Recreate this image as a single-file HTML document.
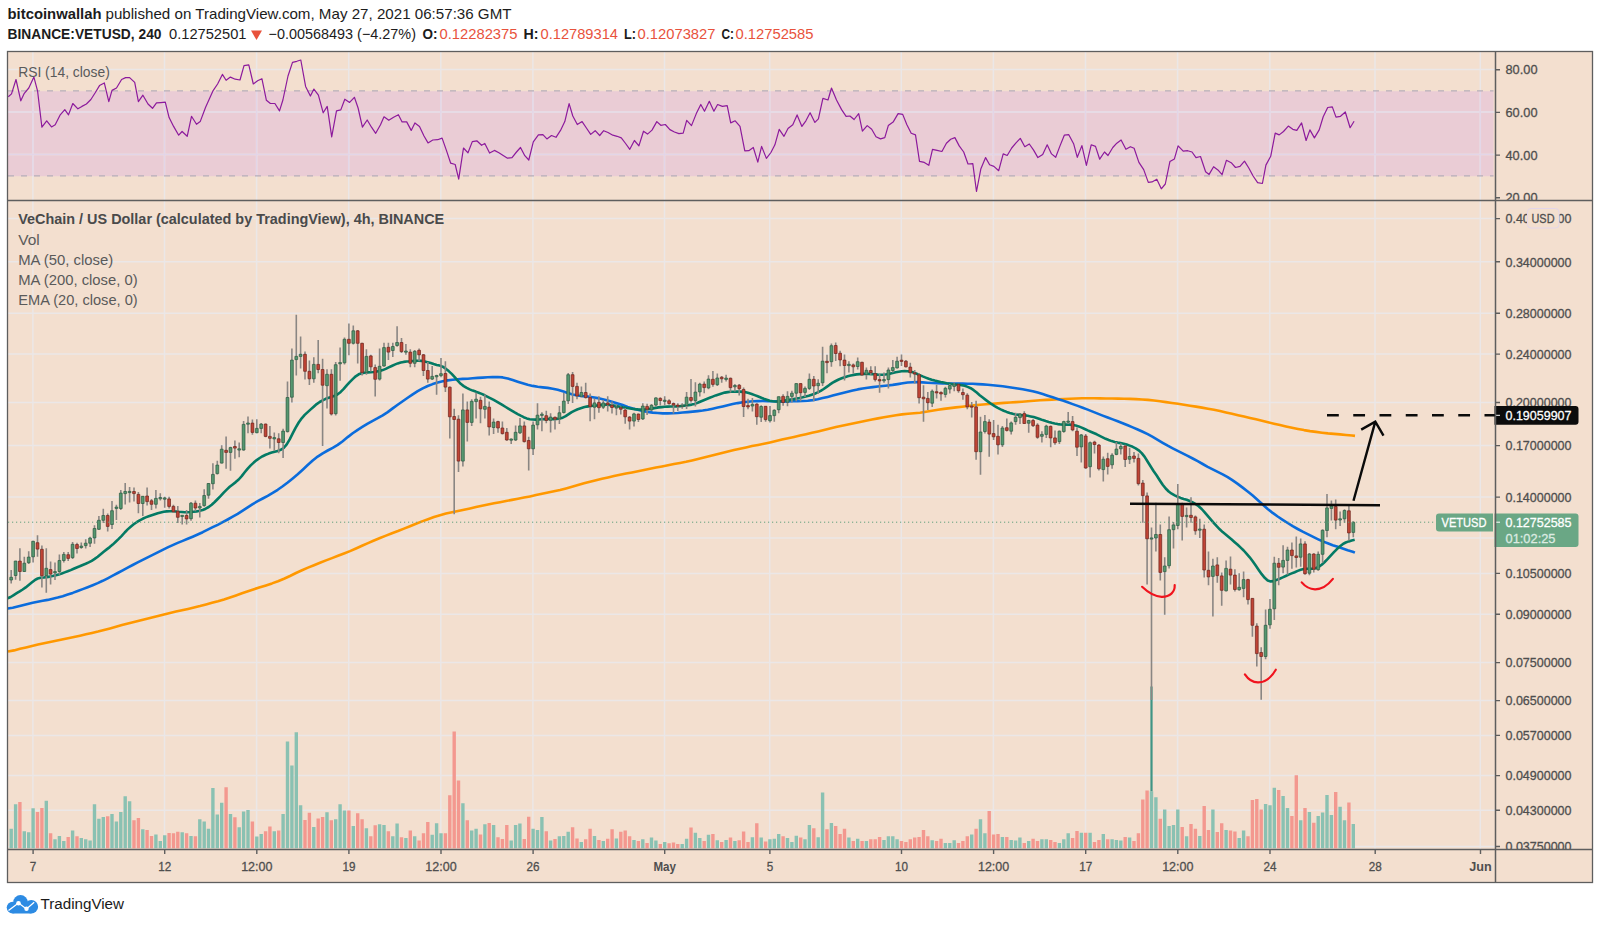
<!DOCTYPE html>
<html lang="en"><head><meta charset="utf-8"><title>VETUSD chart</title>
<style>html,body{margin:0;padding:0;background:#fff}body{width:1600px;height:926px;overflow:hidden}svg{display:block}</style>
</head><body>
<svg width="1600" height="926" viewBox="0 0 1600 926" font-family="'Liberation Sans', sans-serif">
<rect width="1600" height="926" fill="#ffffff"/>
<rect x="7" y="51" width="1585" height="831" fill="#f3dfcf"/>
<rect x="8" y="91.2" width="1485.5" height="85" fill="#eaccd5"/>
<path d="M32.9 52V849M164.5 52V849M256.6 52V849M348.7 52V849M440.8 52V849M532.9 52V849M664.5 52V849M769.7 52V849M901.3 52V849M993.4 52V849M1085.5 52V849M1177.6 52V849M1269.8 52V849M1375.0 52V849M1480.3 52V849M8 69.6H1495M8 112.0H1495M8 154.4H1495M8 538.0H1495M8 218.6H1495M8 261.7H1495M8 313.2H1495M8 354.1H1495M8 402.5H1495M8 445.6H1495M8 497.1H1495M8 573.4H1495M8 614.3H1495M8 662.6H1495M8 700.6H1495M8 735.4H1495M8 775.6H1495M8 810.2H1495M8 846.5H1495" stroke="#ebe7e7" stroke-width="1.5" fill="none"/>
<path d="M32.9 91V176M164.5 91V176M256.6 91V176M348.7 91V176M440.8 91V176M532.9 91V176M664.5 91V176M769.7 91V176M901.3 91V176M993.4 91V176M1085.5 91V176M1177.6 91V176M1269.8 91V176M1375.0 91V176M1480.3 91V176M8 112.0H1493.5M8 154.4H1493.5" stroke="#e3d5e8" stroke-width="1.2" fill="none"/>
<path d="M8 90.9H1493.5M8 175.8H1493.5" stroke="#b7aeb9" stroke-width="1.2" stroke-dasharray="6 7" fill="none"/>
<path d="M9.5 828.8h3.4V848.3h-3.4zM13.9 804.3h3.4V848.3h-3.4zM22.6 831.2h3.4V848.3h-3.4zM27.0 832.3h3.4V848.3h-3.4zM31.4 808.3h3.4V848.3h-3.4zM44.6 800.8h3.4V848.3h-3.4zM53.3 839.2h3.4V848.3h-3.4zM57.7 836.0h3.4V848.3h-3.4zM62.1 841.1h3.4V848.3h-3.4zM70.9 830.4h3.4V848.3h-3.4zM79.6 838.1h3.4V848.3h-3.4zM84.0 839.2h3.4V848.3h-3.4zM88.4 840.5h3.4V848.3h-3.4zM92.8 804.3h3.4V848.3h-3.4zM97.2 818.7h3.4V848.3h-3.4zM101.6 817.1h3.4V848.3h-3.4zM110.3 813.9h3.4V848.3h-3.4zM114.7 821.6h3.4V848.3h-3.4zM119.1 812.0h3.4V848.3h-3.4zM123.5 796.3h3.4V848.3h-3.4zM127.9 801.3h3.4V848.3h-3.4zM141.1 829.3h3.4V848.3h-3.4zM154.2 834.4h3.4V848.3h-3.4zM158.6 841.1h3.4V848.3h-3.4zM163.0 835.2h3.4V848.3h-3.4zM180.5 832.3h3.4V848.3h-3.4zM189.3 836.0h3.4V848.3h-3.4zM198.1 819.2h3.4V848.3h-3.4zM202.5 821.6h3.4V848.3h-3.4zM206.8 828.8h3.4V848.3h-3.4zM211.2 788.0h3.4V848.3h-3.4zM215.6 814.4h3.4V848.3h-3.4zM220.0 802.7h3.4V848.3h-3.4zM228.8 814.1h3.4V848.3h-3.4zM237.5 827.2h3.4V848.3h-3.4zM241.9 811.5h3.4V848.3h-3.4zM246.3 809.9h3.4V848.3h-3.4zM255.1 836.5h3.4V848.3h-3.4zM259.5 834.1h3.4V848.3h-3.4zM272.6 831.2h3.4V848.3h-3.4zM281.4 814.1h3.4V848.3h-3.4zM285.8 741.6h3.4V848.3h-3.4zM290.2 765.6h3.4V848.3h-3.4zM294.6 732.3h3.4V848.3h-3.4zM298.9 805.3h3.4V848.3h-3.4zM312.1 826.9h3.4V848.3h-3.4zM325.3 812.3h3.4V848.3h-3.4zM334.0 819.2h3.4V848.3h-3.4zM338.4 804.3h3.4V848.3h-3.4zM342.8 810.4h3.4V848.3h-3.4zM351.6 826.1h3.4V848.3h-3.4zM364.7 828.3h3.4V848.3h-3.4zM377.9 824.3h3.4V848.3h-3.4zM382.3 825.1h3.4V848.3h-3.4zM391.1 836.3h3.4V848.3h-3.4zM395.4 823.5h3.4V848.3h-3.4zM404.2 838.1h3.4V848.3h-3.4zM413.0 836.3h3.4V848.3h-3.4zM430.5 834.7h3.4V848.3h-3.4zM434.9 823.2h3.4V848.3h-3.4zM439.3 833.3h3.4V848.3h-3.4zM461.2 803.2h3.4V848.3h-3.4zM470.0 830.4h3.4V848.3h-3.4zM474.4 828.8h3.4V848.3h-3.4zM483.2 824.3h3.4V848.3h-3.4zM491.9 825.1h3.4V848.3h-3.4zM509.5 840.5h3.4V848.3h-3.4zM513.9 825.1h3.4V848.3h-3.4zM518.2 823.5h3.4V848.3h-3.4zM531.4 828.8h3.4V848.3h-3.4zM535.8 830.1h3.4V848.3h-3.4zM540.2 817.1h3.4V848.3h-3.4zM548.9 840.5h3.4V848.3h-3.4zM557.7 836.3h3.4V848.3h-3.4zM562.1 836.0h3.4V848.3h-3.4zM566.5 831.7h3.4V848.3h-3.4zM579.6 841.9h3.4V848.3h-3.4zM592.8 836.0h3.4V848.3h-3.4zM601.6 841.1h3.4V848.3h-3.4zM614.7 838.4h3.4V848.3h-3.4zM632.3 840.0h3.4V848.3h-3.4zM641.1 839.2h3.4V848.3h-3.4zM649.8 837.6h3.4V848.3h-3.4zM654.2 840.5h3.4V848.3h-3.4zM663.0 842.1h3.4V848.3h-3.4zM680.5 844.0h3.4V848.3h-3.4zM684.9 838.7h3.4V848.3h-3.4zM693.7 832.8h3.4V848.3h-3.4zM698.1 838.1h3.4V848.3h-3.4zM706.8 834.7h3.4V848.3h-3.4zM715.6 840.3h3.4V848.3h-3.4zM724.4 840.0h3.4V848.3h-3.4zM733.2 841.1h3.4V848.3h-3.4zM750.7 837.3h3.4V848.3h-3.4zM759.5 837.6h3.4V848.3h-3.4zM768.2 839.2h3.4V848.3h-3.4zM772.6 838.7h3.4V848.3h-3.4zM777.0 834.1h3.4V848.3h-3.4zM785.8 838.1h3.4V848.3h-3.4zM790.2 841.9h3.4V848.3h-3.4zM794.6 835.7h3.4V848.3h-3.4zM803.3 839.2h3.4V848.3h-3.4zM807.7 825.1h3.4V848.3h-3.4zM816.5 837.3h3.4V848.3h-3.4zM820.9 792.5h3.4V848.3h-3.4zM829.7 822.9h3.4V848.3h-3.4zM847.2 837.6h3.4V848.3h-3.4zM856.0 838.7h3.4V848.3h-3.4zM864.7 841.1h3.4V848.3h-3.4zM882.3 840.0h3.4V848.3h-3.4zM886.7 836.3h3.4V848.3h-3.4zM891.1 836.3h3.4V848.3h-3.4zM895.4 839.2h3.4V848.3h-3.4zM930.5 840.3h3.4V848.3h-3.4zM943.7 842.9h3.4V848.3h-3.4zM948.1 842.9h3.4V848.3h-3.4zM952.5 840.3h3.4V848.3h-3.4zM970.0 834.4h3.4V848.3h-3.4zM978.8 819.2h3.4V848.3h-3.4zM983.2 833.3h3.4V848.3h-3.4zM1000.7 837.1h3.4V848.3h-3.4zM1009.5 840.0h3.4V848.3h-3.4zM1013.9 840.5h3.4V848.3h-3.4zM1018.2 837.6h3.4V848.3h-3.4zM1027.0 841.1h3.4V848.3h-3.4zM1040.2 839.2h3.4V848.3h-3.4zM1044.6 839.2h3.4V848.3h-3.4zM1057.7 842.9h3.4V848.3h-3.4zM1062.1 839.2h3.4V848.3h-3.4zM1066.5 833.3h3.4V848.3h-3.4zM1079.7 832.8h3.4V848.3h-3.4zM1088.4 832.8h3.4V848.3h-3.4zM1101.6 834.1h3.4V848.3h-3.4zM1110.4 839.2h3.4V848.3h-3.4zM1114.7 840.0h3.4V848.3h-3.4zM1119.1 840.5h3.4V848.3h-3.4zM1127.9 837.6h3.4V848.3h-3.4zM1149.8 791.2h3.4V848.3h-3.4zM1154.2 797.3h3.4V848.3h-3.4zM1163.0 809.6h3.4V848.3h-3.4zM1167.4 826.1h3.4V848.3h-3.4zM1171.8 825.1h3.4V848.3h-3.4zM1176.1 809.6h3.4V848.3h-3.4zM1184.9 836.3h3.4V848.3h-3.4zM1198.1 836.0h3.4V848.3h-3.4zM1211.2 809.6h3.4V848.3h-3.4zM1224.4 829.9h3.4V848.3h-3.4zM1237.5 838.1h3.4V848.3h-3.4zM1241.9 830.4h3.4V848.3h-3.4zM1263.9 804.0h3.4V848.3h-3.4zM1268.3 805.3h3.4V848.3h-3.4zM1272.6 787.7h3.4V848.3h-3.4zM1281.4 796.0h3.4V848.3h-3.4zM1285.8 808.0h3.4V848.3h-3.4zM1299.0 820.3h3.4V848.3h-3.4zM1307.7 812.0h3.4V848.3h-3.4zM1316.5 816.0h3.4V848.3h-3.4zM1320.9 812.5h3.4V848.3h-3.4zM1325.3 794.9h3.4V848.3h-3.4zM1329.7 814.9h3.4V848.3h-3.4zM1338.4 806.7h3.4V848.3h-3.4zM1342.8 820.3h3.4V848.3h-3.4zM1351.6 824.0h3.4V848.3h-3.4z" fill="#8ac1b2"/>
<path d="M18.2 802.1h3.4V848.3h-3.4zM35.8 812.0h3.4V848.3h-3.4zM40.2 808.0h3.4V848.3h-3.4zM48.9 833.3h3.4V848.3h-3.4zM66.5 837.1h3.4V848.3h-3.4zM75.3 836.3h3.4V848.3h-3.4zM106.0 816.3h3.4V848.3h-3.4zM132.3 820.3h3.4V848.3h-3.4zM136.7 818.1h3.4V848.3h-3.4zM145.4 830.1h3.4V848.3h-3.4zM149.8 836.0h3.4V848.3h-3.4zM167.4 833.1h3.4V848.3h-3.4zM171.8 833.3h3.4V848.3h-3.4zM176.1 831.7h3.4V848.3h-3.4zM184.9 833.3h3.4V848.3h-3.4zM193.7 836.3h3.4V848.3h-3.4zM224.4 787.2h3.4V848.3h-3.4zM233.2 817.3h3.4V848.3h-3.4zM250.7 821.6h3.4V848.3h-3.4zM263.9 831.2h3.4V848.3h-3.4zM268.2 826.4h3.4V848.3h-3.4zM277.0 830.4h3.4V848.3h-3.4zM303.3 820.0h3.4V848.3h-3.4zM307.7 812.8h3.4V848.3h-3.4zM316.5 818.4h3.4V848.3h-3.4zM320.9 817.1h3.4V848.3h-3.4zM329.6 820.3h3.4V848.3h-3.4zM347.2 810.4h3.4V848.3h-3.4zM356.0 813.3h3.4V848.3h-3.4zM360.4 819.2h3.4V848.3h-3.4zM369.1 836.3h3.4V848.3h-3.4zM373.5 825.3h3.4V848.3h-3.4zM386.7 831.2h3.4V848.3h-3.4zM399.8 837.3h3.4V848.3h-3.4zM408.6 830.4h3.4V848.3h-3.4zM417.4 840.5h3.4V848.3h-3.4zM421.8 833.3h3.4V848.3h-3.4zM426.1 822.1h3.4V848.3h-3.4zM443.7 833.3h3.4V848.3h-3.4zM448.1 795.2h3.4V848.3h-3.4zM452.5 731.5h3.4V848.3h-3.4zM456.8 780.5h3.4V848.3h-3.4zM465.6 820.3h3.4V848.3h-3.4zM478.8 834.4h3.4V848.3h-3.4zM487.5 822.9h3.4V848.3h-3.4zM496.3 837.3h3.4V848.3h-3.4zM500.7 838.9h3.4V848.3h-3.4zM505.1 825.1h3.4V848.3h-3.4zM522.6 838.9h3.4V848.3h-3.4zM527.0 816.8h3.4V848.3h-3.4zM544.6 831.2h3.4V848.3h-3.4zM553.3 838.9h3.4V848.3h-3.4zM570.9 827.2h3.4V848.3h-3.4zM575.3 838.4h3.4V848.3h-3.4zM584.0 839.2h3.4V848.3h-3.4zM588.4 828.8h3.4V848.3h-3.4zM597.2 840.0h3.4V848.3h-3.4zM606.0 838.7h3.4V848.3h-3.4zM610.4 829.3h3.4V848.3h-3.4zM619.1 831.7h3.4V848.3h-3.4zM623.5 830.4h3.4V848.3h-3.4zM627.9 836.3h3.4V848.3h-3.4zM636.7 841.1h3.4V848.3h-3.4zM645.4 842.9h3.4V848.3h-3.4zM658.6 844.0h3.4V848.3h-3.4zM667.4 843.2h3.4V848.3h-3.4zM671.8 842.4h3.4V848.3h-3.4zM676.1 844.0h3.4V848.3h-3.4zM689.3 827.5h3.4V848.3h-3.4zM702.5 841.1h3.4V848.3h-3.4zM711.2 834.1h3.4V848.3h-3.4zM720.0 842.1h3.4V848.3h-3.4zM728.8 837.6h3.4V848.3h-3.4zM737.5 840.3h3.4V848.3h-3.4zM741.9 831.5h3.4V848.3h-3.4zM746.3 842.1h3.4V848.3h-3.4zM755.1 823.2h3.4V848.3h-3.4zM763.9 841.6h3.4V848.3h-3.4zM781.4 836.3h3.4V848.3h-3.4zM799.0 837.6h3.4V848.3h-3.4zM812.1 828.3h3.4V848.3h-3.4zM825.3 829.3h3.4V848.3h-3.4zM834.0 826.1h3.4V848.3h-3.4zM838.4 834.1h3.4V848.3h-3.4zM842.8 828.8h3.4V848.3h-3.4zM851.6 841.1h3.4V848.3h-3.4zM860.4 841.1h3.4V848.3h-3.4zM869.1 839.2h3.4V848.3h-3.4zM873.5 839.2h3.4V848.3h-3.4zM877.9 837.1h3.4V848.3h-3.4zM899.8 841.1h3.4V848.3h-3.4zM904.2 842.1h3.4V848.3h-3.4zM908.6 839.2h3.4V848.3h-3.4zM913.0 837.6h3.4V848.3h-3.4zM917.4 837.1h3.4V848.3h-3.4zM921.8 829.9h3.4V848.3h-3.4zM926.1 836.3h3.4V848.3h-3.4zM934.9 841.1h3.4V848.3h-3.4zM939.3 838.7h3.4V848.3h-3.4zM956.8 842.9h3.4V848.3h-3.4zM961.2 841.1h3.4V848.3h-3.4zM965.6 836.3h3.4V848.3h-3.4zM974.4 828.8h3.4V848.3h-3.4zM987.5 810.9h3.4V848.3h-3.4zM991.9 834.4h3.4V848.3h-3.4zM996.3 834.1h3.4V848.3h-3.4zM1005.1 837.1h3.4V848.3h-3.4zM1022.6 842.9h3.4V848.3h-3.4zM1031.4 838.7h3.4V848.3h-3.4zM1035.8 841.1h3.4V848.3h-3.4zM1049.0 840.0h3.4V848.3h-3.4zM1053.3 841.9h3.4V848.3h-3.4zM1070.9 838.1h3.4V848.3h-3.4zM1075.3 830.9h3.4V848.3h-3.4zM1084.0 832.8h3.4V848.3h-3.4zM1092.8 841.9h3.4V848.3h-3.4zM1097.2 840.0h3.4V848.3h-3.4zM1106.0 839.2h3.4V848.3h-3.4zM1123.5 837.1h3.4V848.3h-3.4zM1132.3 841.1h3.4V848.3h-3.4zM1136.7 833.3h3.4V848.3h-3.4zM1141.1 799.5h3.4V848.3h-3.4zM1145.4 790.4h3.4V848.3h-3.4zM1158.6 818.7h3.4V848.3h-3.4zM1180.5 826.9h3.4V848.3h-3.4zM1189.3 824.0h3.4V848.3h-3.4zM1193.7 828.8h3.4V848.3h-3.4zM1202.5 806.1h3.4V848.3h-3.4zM1206.8 829.9h3.4V848.3h-3.4zM1215.6 832.0h3.4V848.3h-3.4zM1220.0 823.2h3.4V848.3h-3.4zM1228.8 830.4h3.4V848.3h-3.4zM1233.2 831.5h3.4V848.3h-3.4zM1246.3 836.3h3.4V848.3h-3.4zM1250.7 800.0h3.4V848.3h-3.4zM1255.1 798.9h3.4V848.3h-3.4zM1259.5 809.6h3.4V848.3h-3.4zM1277.0 790.1h3.4V848.3h-3.4zM1290.2 816.0h3.4V848.3h-3.4zM1294.6 775.2h3.4V848.3h-3.4zM1303.3 808.0h3.4V848.3h-3.4zM1312.1 822.7h3.4V848.3h-3.4zM1334.0 792.0h3.4V848.3h-3.4zM1347.2 802.4h3.4V848.3h-3.4z" fill="#f3988f"/>
<rect x="1150.4" y="686.5" width="2.2" height="104.7" fill="#3f9585"/>
<path d="M8.0 651.5L14.0 650.4L20.0 648.8L26.0 647.4L32.0 646.0L38.0 644.6L44.0 643.3L50.0 642.0L56.0 640.8L62.0 639.5L68.0 638.3L74.0 637.0L80.0 635.7L86.0 634.3L92.0 633.0L98.0 631.6L104.0 630.0L110.0 628.4L116.0 626.7L122.0 625.1L128.0 623.5L134.0 622.0L140.0 620.5L146.0 619.0L152.0 617.5L158.0 616.0L164.0 614.5L170.0 613.0L176.0 611.6L182.0 610.2L188.0 608.9L194.0 607.5L200.0 606.1L206.0 604.5L212.0 602.8L218.0 601.2L224.0 599.4L230.0 597.4L236.0 595.4L242.0 593.3L248.0 591.2L254.0 589.2L260.0 587.3L266.0 585.4L272.0 583.4L278.0 581.2L284.0 578.8L290.0 576.0L296.0 573.0L302.0 570.2L308.0 567.6L314.0 565.2L320.0 562.8L326.0 560.4L332.0 558.1L338.0 555.8L344.0 553.5L350.0 551.1L356.0 548.5L362.0 545.8L368.0 543.1L374.0 540.5L380.0 538.0L386.0 535.6L392.0 533.2L398.0 531.0L404.0 528.6L410.0 526.2L416.0 523.8L422.0 521.4L428.0 519.2L434.0 517.1L440.0 515.2L446.0 513.5L452.0 512.2L458.0 510.9L464.0 509.7L470.0 508.4L476.0 507.0L482.0 505.7L488.0 504.5L494.0 503.3L500.0 502.2L506.0 501.0L512.0 499.9L518.0 498.8L524.0 497.6L530.0 496.4L536.0 495.1L542.0 493.8L548.0 492.5L554.0 491.2L560.0 489.9L566.0 488.4L572.0 486.8L578.0 485.1L584.0 483.3L590.0 481.7L596.0 480.2L602.0 478.8L608.0 477.4L614.0 476.1L620.0 474.8L626.0 473.6L632.0 472.4L638.0 471.2L644.0 470.0L650.0 468.8L656.0 467.6L662.0 466.4L668.0 465.3L674.0 464.1L680.0 463.0L686.0 461.8L692.0 460.4L698.0 459.0L704.0 457.5L710.0 456.0L716.0 454.5L722.0 453.0L728.0 451.5L734.0 450.1L740.0 448.7L746.0 447.4L752.0 446.1L758.0 444.9L764.0 443.7L770.0 442.4L776.0 441.0L782.0 439.6L788.0 438.3L794.0 437.0L800.0 435.6L806.0 434.2L812.0 432.8L818.0 431.4L824.0 429.9L830.0 428.5L836.0 427.1L842.0 425.8L848.0 424.5L854.0 423.2L860.0 421.9L866.0 420.7L872.0 419.5L878.0 418.4L884.0 417.3L890.0 416.3L896.0 415.3L902.0 414.4L908.0 413.8L914.0 413.3L920.0 412.7L926.0 411.8L932.0 410.8L938.0 409.8L944.0 408.9L950.0 408.1L956.0 407.4L962.0 406.7L968.0 406.0L974.0 405.4L980.0 404.8L986.0 404.3L992.0 403.8L998.0 403.4L1004.0 402.9L1010.0 402.5L1016.0 402.1L1022.0 401.7L1028.0 401.3L1034.0 400.8L1040.0 400.3L1046.0 399.9L1052.0 399.6L1058.0 399.3L1064.0 399.0L1070.0 398.7L1076.0 398.5L1082.0 398.3L1088.0 398.2L1094.0 398.3L1100.0 398.4L1106.0 398.5L1112.0 398.5L1118.0 398.6L1124.0 398.7L1130.0 398.9L1136.0 399.1L1142.0 399.5L1148.0 399.9L1154.0 400.5L1160.0 401.2L1166.0 402.1L1172.0 403.0L1178.0 403.8L1184.0 404.7L1190.0 405.7L1196.0 406.6L1202.0 407.6L1208.0 408.7L1214.0 409.8L1220.0 411.1L1226.0 412.5L1232.0 413.8L1238.0 415.2L1244.0 416.5L1250.0 417.9L1256.0 419.3L1262.0 420.8L1268.0 422.3L1274.0 423.7L1280.0 425.1L1286.0 426.4L1292.0 427.7L1298.0 428.9L1304.0 430.1L1310.0 431.1L1316.0 431.9L1322.0 432.7L1328.0 433.4L1334.0 433.9L1340.0 434.4L1346.0 435.0L1352.0 435.5L1355.0 435.9" stroke="#ff9800" stroke-width="2.6" fill="none" stroke-linejoin="round"/>
<path d="M7.7 608.5L12.7 607.7L17.7 606.5L22.7 605.2L27.7 603.9L32.7 602.7L37.7 601.7L42.7 600.8L47.7 599.9L52.7 598.8L57.7 597.6L62.7 596.2L67.7 594.6L72.7 592.9L77.7 591.0L82.7 589.1L87.7 587.2L92.7 585.2L97.7 583.1L102.7 580.8L107.7 578.3L112.7 575.7L117.7 573.0L122.7 570.3L127.7 567.6L132.7 565.0L137.7 562.4L142.7 559.9L147.7 557.3L152.7 554.9L157.7 552.4L162.7 549.8L167.7 547.4L172.7 545.1L177.7 542.9L182.7 540.9L187.7 538.8L192.7 536.7L197.7 534.5L202.7 532.2L207.7 529.7L212.7 527.2L217.7 524.8L222.7 522.2L227.7 519.5L232.7 516.7L237.7 513.8L242.7 510.6L247.7 507.3L252.7 504.1L257.7 501.2L262.7 498.5L267.7 495.8L272.7 492.9L277.7 489.8L282.7 486.3L287.7 482.5L292.7 478.4L297.7 474.2L302.7 469.7L307.7 465.0L312.7 460.6L317.7 456.6L322.7 453.3L327.7 450.5L332.7 447.8L337.7 444.9L342.7 441.2L347.7 437.1L352.7 433.2L357.7 429.8L362.7 426.7L367.7 423.6L372.7 420.8L377.7 418.2L382.7 415.4L387.7 412.1L392.7 408.4L397.7 404.8L402.7 401.3L407.7 397.8L412.7 394.4L417.7 391.2L422.7 388.4L427.7 386.0L432.7 384.1L437.7 382.5L442.7 381.3L447.7 380.4L452.7 379.8L457.7 379.3L462.7 378.9L467.7 378.7L472.7 378.3L477.7 377.9L482.7 377.6L487.7 377.3L492.7 377.1L497.7 377.0L502.7 377.4L507.7 378.5L512.7 380.0L517.7 381.7L522.7 383.3L527.7 384.8L532.7 385.9L537.7 386.8L542.7 387.4L547.7 387.9L552.7 388.7L557.7 389.8L562.7 391.3L567.7 392.9L572.7 394.4L577.7 395.5L582.7 396.1L587.7 396.5L592.7 397.2L597.7 398.1L602.7 399.2L607.7 400.5L612.7 401.9L617.7 403.4L622.7 405.1L627.7 406.9L632.7 408.5L637.7 409.8L642.7 411.0L647.7 411.9L652.7 412.6L657.7 413.0L662.7 413.4L667.7 413.4L672.7 413.3L677.7 413.0L682.7 412.5L687.7 412.1L692.7 411.6L697.7 411.1L702.7 410.5L707.7 409.7L712.7 408.7L717.7 407.6L722.7 406.4L727.7 405.2L732.7 404.1L737.7 403.1L742.7 402.3L747.7 401.7L752.7 401.3L757.7 401.1L762.7 401.0L767.7 401.2L772.7 401.3L777.7 401.5L782.7 401.6L787.7 401.5L792.7 401.3L797.7 401.1L802.7 401.0L807.7 400.7L812.7 400.1L817.7 399.2L822.7 398.1L827.7 396.9L832.7 395.6L837.7 394.3L842.7 392.9L847.7 391.7L852.7 390.5L857.7 389.4L862.7 388.5L867.7 387.7L872.7 387.1L877.7 386.5L882.7 386.0L887.7 385.5L892.7 384.9L897.7 384.1L902.7 383.3L907.7 382.5L912.7 382.2L917.7 382.1L922.7 382.4L927.7 382.7L932.7 383.0L937.7 383.3L942.7 383.4L947.7 383.5L952.7 383.5L957.7 383.5L962.7 383.6L967.7 383.7L972.7 383.8L977.7 384.1L982.7 384.4L987.7 384.8L992.7 385.3L997.7 385.8L1002.7 386.3L1007.7 387.0L1012.7 387.7L1017.7 388.5L1022.7 389.3L1027.7 390.2L1032.7 391.3L1037.7 392.6L1042.7 394.1L1047.7 395.7L1052.7 397.3L1057.7 399.0L1062.7 400.6L1067.7 402.3L1072.7 404.1L1077.7 405.9L1082.7 407.8L1087.7 409.6L1092.7 411.6L1097.7 413.6L1102.7 415.6L1107.7 417.5L1112.7 419.4L1117.7 421.3L1122.7 423.2L1127.7 425.3L1132.7 427.4L1137.7 429.5L1142.7 431.8L1147.7 434.2L1152.7 436.9L1157.7 439.8L1162.7 442.8L1167.7 445.7L1172.7 448.3L1177.7 450.8L1182.7 453.3L1187.7 455.8L1192.7 458.5L1197.7 461.2L1202.7 464.0L1207.7 466.8L1212.7 469.4L1217.7 471.9L1222.7 474.4L1227.7 477.1L1232.7 480.4L1237.7 483.9L1242.7 487.6L1247.7 491.5L1252.7 495.6L1257.7 500.0L1262.7 504.5L1267.7 508.9L1272.7 512.9L1277.7 516.5L1282.7 519.8L1287.7 523.0L1292.7 526.2L1297.7 529.0L1302.7 531.7L1307.7 534.2L1312.7 536.7L1317.7 539.1L1322.7 541.4L1327.7 543.3L1332.7 545.2L1337.7 546.8L1342.7 548.5L1347.7 550.3L1352.7 551.7L1354.9 552.6" stroke="#0b6cdc" stroke-width="2.6" fill="none" stroke-linejoin="round"/>
<path d="M7.7 598.3L10.7 597.0L13.7 595.1L16.7 593.2L19.7 591.4L22.7 589.5L25.7 587.4L28.7 585.0L31.7 582.6L34.7 580.2L37.7 578.5L40.7 577.7L43.7 577.5L46.7 577.1L49.7 576.6L52.7 576.0L55.7 575.3L58.7 574.4L61.7 573.5L64.7 572.4L67.7 571.3L70.7 570.1L73.7 568.8L76.7 567.5L79.7 566.3L82.7 565.0L85.7 563.8L88.7 562.4L91.7 560.8L94.7 558.9L97.7 556.7L100.7 554.2L103.7 551.7L106.7 549.4L109.7 547.1L112.7 544.6L115.7 541.8L118.7 538.9L121.7 535.8L124.7 532.5L127.7 529.4L130.7 526.7L133.7 524.3L136.7 522.2L139.7 520.3L142.7 518.8L145.7 517.4L148.7 516.3L151.7 515.3L154.7 514.3L157.7 513.3L160.7 512.5L163.7 511.8L166.7 511.4L169.7 511.2L172.7 511.3L175.7 511.5L178.7 511.8L181.7 512.0L184.7 512.2L187.7 512.2L190.7 512.0L193.7 511.7L196.7 511.4L199.7 510.8L202.7 510.0L205.7 508.7L208.7 507.0L211.7 504.7L214.7 502.0L217.7 499.0L220.7 495.9L223.7 492.6L226.7 489.6L229.7 486.8L232.7 484.4L235.7 482.1L238.7 479.5L241.7 476.1L244.7 472.3L247.7 468.6L250.7 465.4L253.7 462.6L256.7 460.1L259.7 458.0L262.7 456.2L265.7 454.8L268.7 453.6L271.7 452.6L274.7 451.8L277.7 451.0L280.7 449.8L283.7 448.0L286.7 444.4L289.7 439.4L292.7 433.4L295.7 427.7L298.7 422.5L301.7 418.3L304.7 414.9L307.7 412.1L310.7 409.4L313.7 406.7L316.7 404.1L319.7 402.0L322.7 400.3L325.7 398.8L328.7 397.8L331.7 396.9L334.7 395.8L337.7 394.3L340.7 391.9L343.7 388.9L346.7 385.4L349.7 382.1L352.7 379.1L355.7 376.3L358.7 374.3L361.7 373.2L364.7 372.7L367.7 372.4L370.7 372.2L373.7 372.0L376.7 371.6L379.7 371.0L382.7 370.1L385.7 368.9L388.7 367.4L391.7 366.0L394.7 364.6L397.7 363.4L400.7 362.5L403.7 361.9L406.7 361.5L409.7 361.3L412.7 361.0L415.7 360.8L418.7 360.7L421.7 360.9L424.7 361.5L427.7 362.2L430.7 363.0L433.7 364.0L436.7 364.9L439.7 365.6L442.7 366.7L445.7 368.7L448.7 371.1L451.7 373.9L454.7 377.2L457.7 380.7L460.7 383.8L463.7 386.1L466.7 387.9L469.7 389.4L472.7 390.6L475.7 391.6L478.7 392.7L481.7 393.9L484.7 395.3L487.7 396.8L490.7 398.3L493.7 399.9L496.7 401.6L499.7 403.4L502.7 405.2L505.7 407.0L508.7 408.8L511.7 410.6L514.7 412.4L517.7 414.1L520.7 415.7L523.7 417.2L526.7 418.4L529.7 419.2L532.7 419.5L535.7 419.6L538.7 419.5L541.7 419.3L544.7 419.1L547.7 419.0L550.7 419.0L553.7 419.1L556.7 418.9L559.7 418.5L562.7 417.7L565.7 416.2L568.7 414.2L571.7 412.2L574.7 410.6L577.7 409.2L580.7 408.2L583.7 407.3L586.7 406.6L589.7 406.1L592.7 405.8L595.7 405.6L598.7 405.3L601.7 404.9L604.7 404.6L607.7 404.7L610.7 405.1L613.7 405.6L616.7 406.1L619.7 406.7L622.7 407.3L625.7 407.8L628.7 408.3L631.7 408.7L634.7 409.1L637.7 409.4L640.7 409.6L643.7 409.5L646.7 409.3L649.7 408.9L652.7 408.4L655.7 407.9L658.7 407.4L661.7 407.1L664.7 406.8L667.7 406.6L670.7 406.5L673.7 406.5L676.7 406.4L679.7 406.2L682.7 405.9L685.7 405.5L688.7 405.1L691.7 404.6L694.7 403.9L697.7 402.8L700.7 401.5L703.7 400.2L706.7 399.0L709.7 397.8L712.7 396.6L715.7 395.4L718.7 394.4L721.7 393.4L724.7 392.6L727.7 392.1L730.7 391.8L733.7 391.7L736.7 391.6L739.7 391.6L742.7 391.9L745.7 392.3L748.7 393.1L751.7 394.0L754.7 395.1L757.7 396.3L760.7 397.5L763.7 398.7L766.7 399.7L769.7 400.7L772.7 401.2L775.7 401.5L778.7 401.3L781.7 401.0L784.7 400.5L787.7 400.1L790.7 399.6L793.7 399.1L796.7 398.6L799.7 398.0L802.7 397.3L805.7 396.5L808.7 395.7L811.7 394.7L814.7 393.7L817.7 392.4L820.7 390.9L823.7 389.0L826.7 386.9L829.7 384.7L832.7 382.7L835.7 381.0L838.7 379.5L841.7 378.3L844.7 377.2L847.7 376.3L850.7 375.6L853.7 374.9L856.7 374.4L859.7 374.1L862.7 373.9L865.7 373.8L868.7 373.9L871.7 374.1L874.7 374.3L877.7 374.6L880.7 374.8L883.7 374.7L886.7 374.3L889.7 373.7L892.7 373.0L895.7 372.3L898.7 371.8L901.7 371.3L904.7 371.1L907.7 371.2L910.7 371.7L913.7 372.6L916.7 373.8L919.7 375.1L922.7 376.4L925.7 377.6L928.7 378.8L931.7 379.8L934.7 380.6L937.7 381.3L940.7 382.0L943.7 382.6L946.7 383.2L949.7 383.7L952.7 384.2L955.7 384.5L958.7 384.8L961.7 385.2L964.7 385.8L967.7 386.9L970.7 388.2L973.7 390.2L976.7 392.6L979.7 395.2L982.7 397.6L985.7 399.9L988.7 402.1L991.7 404.2L994.7 406.2L997.7 407.9L1000.7 409.4L1003.7 410.7L1006.7 411.9L1009.7 412.9L1012.7 413.8L1015.7 414.5L1018.7 414.9L1021.7 415.2L1024.7 415.4L1027.7 415.8L1030.7 416.4L1033.7 417.1L1036.7 418.0L1039.7 419.0L1042.7 420.1L1045.7 421.1L1048.7 422.0L1051.7 422.8L1054.7 423.5L1057.7 424.1L1060.7 424.5L1063.7 424.6L1066.7 424.5L1069.7 424.6L1072.7 425.0L1075.7 425.6L1078.7 426.4L1081.7 427.6L1084.7 429.0L1087.7 430.4L1090.7 431.7L1093.7 433.0L1096.7 434.3L1099.7 435.8L1102.7 437.3L1105.7 438.8L1108.7 440.0L1111.7 441.1L1114.7 441.9L1117.7 442.6L1120.7 443.1L1123.7 443.7L1126.7 444.5L1129.7 445.6L1132.7 446.8L1135.7 448.3L1138.7 450.3L1141.7 453.1L1144.7 456.9L1147.7 461.7L1150.7 466.5L1153.7 471.2L1156.7 475.5L1159.7 480.2L1162.7 484.7L1165.7 488.5L1168.7 491.5L1171.7 493.7L1174.7 495.4L1177.7 496.8L1180.7 497.9L1183.7 498.9L1186.7 499.8L1189.7 501.0L1192.7 502.4L1195.7 504.2L1198.7 506.2L1201.7 509.0L1204.7 512.3L1207.7 515.9L1210.7 519.4L1213.7 522.8L1216.7 526.2L1219.7 529.3L1222.7 532.1L1225.7 534.5L1228.7 537.0L1231.7 539.5L1234.7 542.2L1237.7 544.8L1240.7 547.6L1243.7 550.5L1246.7 553.8L1249.7 557.3L1252.7 561.3L1255.7 565.6L1258.7 569.9L1261.7 574.2L1264.7 577.8L1267.7 580.5L1270.7 581.4L1273.7 581.1L1276.7 579.9L1279.7 578.7L1282.7 577.4L1285.7 576.0L1288.7 574.6L1291.7 573.4L1294.7 572.2L1297.7 570.9L1300.7 569.8L1303.7 569.0L1306.7 568.7L1309.7 568.8L1312.7 568.7L1315.7 568.3L1318.7 566.9L1321.7 564.8L1324.7 562.0L1327.7 558.9L1330.7 555.6L1333.7 552.4L1336.7 549.3L1339.7 546.6L1342.7 544.2L1345.7 542.5L1348.7 541.4L1351.7 540.4L1354.7 539.7" stroke="#047a64" stroke-width="2.6" fill="none" stroke-linejoin="round"/>
<path d="M11.2 570.1V583.5M15.6 560.8V579.7M19.9 548.3V580.8M24.3 556.8V572.0M28.7 551.2V564.0M33.1 540.8V562.4M37.5 535.2V556.8M41.9 545.6V587.5M46.3 548.3V592.8M50.6 561.6V584.5M55.0 562.4V580.0M59.4 554.4V574.7M63.8 552.0V562.4M68.2 552.0V561.1M72.6 541.9V558.9M77.0 542.7V553.6M81.3 542.4V548.8M85.7 539.2V548.5M90.1 536.8V546.9M94.5 525.3V543.7M98.9 516.0V529.9M103.3 508.8V522.9M107.7 513.6V531.5M112.0 501.1V529.1M116.4 504.8V520.0M120.8 489.9V510.1M125.2 482.9V504.5M129.6 486.9V502.4M134.0 487.5V501.6M138.4 492.0V513.3M142.8 496.0V516.0M147.1 487.5V505.6M151.5 498.9V510.1M155.9 489.9V508.5M160.3 493.3V500.5M164.7 496.8V507.7M169.1 496.8V508.5M173.4 504.8V513.1M177.8 505.9V522.9M182.2 514.9V524.5M186.6 510.1V524.5M191.0 501.9V520.8M195.4 500.5V511.2M199.8 502.9V517.6M204.2 489.3V506.7M208.5 482.9V498.7M212.9 463.2V489.6M217.3 460.8V474.4M221.7 445.2V463.6M226.1 436.4V468.7M230.5 446.8V470.8M234.9 440.4V458.8M239.2 442.5V457.2M243.6 420.9V450.8M248.0 416.4V433.2M252.4 419.6V434.8M256.8 419.3V433.2M261.2 423.1V433.2M265.6 423.6V437.2M269.9 426.0V448.4M274.3 432.4V450.8M278.7 433.2V453.2M283.1 428.7V458.0M287.5 381.5V432.4M291.9 348.4V402.5M296.3 314.8V375.6M300.6 336.4V368.4M305.0 351.6V379.6M309.4 360.4V384.9M313.8 357.2V382.8M318.2 340.1V373.2M322.6 358.8V446.0M327.0 369.2V408.4M331.4 369.2V415.6M335.7 362.0V415.6M340.1 347.6V380.7M344.5 337.5V364.4M348.9 323.6V355.3M353.3 325.5V344.4M357.7 330.0V363.6M362.1 342.8V375.6M366.4 349.2V374.8M370.8 354.8V371.6M375.2 364.4V396.4M379.6 348.4V380.4M384.0 342.8V366.8M388.4 342.8V360.1M392.8 342.8V356.9M397.1 326.3V346.8M401.5 338.0V352.9M405.9 344.1V354.8M410.3 349.2V367.3M414.7 350.0V367.3M419.1 348.4V361.2M423.4 354.0V375.9M427.8 362.0V382.8M432.2 366.0V379.9M436.6 374.8V394.8M441.0 358.0V377.2M445.4 361.2V391.9M449.8 386.4V438.4M454.2 408.8V514.2M458.5 415.2V472.0M462.9 393.6V466.4M467.3 401.6V441.6M471.7 399.2V425.9M476.1 392.8V418.4M480.5 396.8V423.2M484.9 394.4V418.4M489.2 401.6V435.5M493.6 418.4V433.9M498.0 420.8V432.8M502.4 421.6V434.4M506.8 428.0V440.8M511.2 438.4V444.0M515.6 425.6V441.1M520.0 417.9V433.9M524.3 421.6V442.4M528.7 436.8V470.4M533.1 421.6V454.9M537.5 403.2V429.6M541.9 412.3V431.2M546.3 410.7V423.2M550.6 413.3V432.5M555.0 416.5V429.6M559.4 405.9V424.0M563.8 392.8V413.6M568.2 373.1V404.0M572.6 372.0V402.9M577.0 382.7V399.2M581.4 386.4V397.3M585.7 382.7V398.4M590.1 393.6V421.3M594.5 398.4V419.2M598.9 396.3V412.8M603.3 400.0V409.1M607.7 396.3V411.5M612.0 401.6V413.6M616.4 404.8V415.2M620.8 406.4V414.4M625.2 408.0V423.7M629.6 416.0V429.6M634.0 412.8V426.4M638.4 413.6V421.9M642.8 403.2V420.0M647.1 403.7V414.9M651.5 404.0V410.9M655.9 397.3V406.9M660.3 397.3V405.6M664.7 396.3V405.6M669.1 399.2V404.8M673.5 402.4V413.6M677.8 403.2V410.9M682.2 403.2V408.8M686.6 391.9V408.9M691.0 379.1V402.5M695.4 382.3V406.5M699.8 382.8V396.4M704.2 381.5V393.2M708.5 375.3V389.2M712.9 371.1V386.8M717.3 373.5V386.0M721.7 376.1V382.8M726.1 374.8V381.5M730.5 377.5V392.4M734.9 384.1V391.6M739.2 384.1V395.6M743.6 387.6V416.9M748.0 398.8V409.2M752.4 398.0V411.6M756.8 403.3V424.7M761.2 405.2V422.0M765.6 406.0V421.7M770.0 406.0V422.5M774.3 409.2V421.7M778.7 396.4V413.2M783.1 394.3V405.7M787.5 391.3V406.3M791.9 390.8V402.5M796.3 383.3V401.2M800.6 383.3V401.2M805.0 386.5V396.9M809.4 373.5V390.0M813.8 375.9V401.2M818.2 379.3V393.7M822.6 346.8V386.0M827.0 354.8V373.2M831.4 343.6V366.8M835.7 342.5V360.9M840.1 350.8V366.3M844.5 354.5V380.4M848.9 361.2V372.4M853.3 363.6V373.7M857.7 357.5V369.5M862.0 361.7V375.6M866.4 367.6V379.6M870.8 366.3V374.8M875.2 366.3V381.5M879.6 374.0V392.7M884.0 372.4V382.8M888.4 367.6V388.4M892.8 360.1V372.4M897.1 356.7V368.4M901.5 354.5V366.0M905.9 360.1V367.6M910.3 362.8V377.5M914.7 370.0V383.6M919.1 373.2V403.6M923.5 385.2V421.7M927.8 392.0V409.9M932.2 389.6V406.9M936.6 384.8V398.4M941.0 391.2V400.8M945.4 386.7V397.6M949.8 384.0V393.6M954.2 382.4V391.2M958.5 383.7V392.8M962.9 388.5V399.7M967.3 393.3V409.3M971.7 401.9V417.6M976.1 400.8V459.7M980.5 416.8V474.7M984.9 414.9V433.6M989.2 419.2V456.8M993.6 420.0V440.0M998.0 424.8V454.4M1002.4 426.1V446.9M1006.8 418.4V431.5M1011.2 421.6V434.4M1015.6 412.8V424.8M1020.0 413.3V424.0M1024.3 411.2V424.0M1028.7 419.7V432.8M1033.1 418.9V426.9M1037.5 423.2V438.7M1041.9 431.2V442.4M1046.3 424.8V437.9M1050.7 425.6V447.2M1055.0 430.4V444.8M1059.4 430.4V444.0M1063.8 420.8V432.8M1068.2 412.0V424.0M1072.6 416.0V431.2M1077.0 427.5V456.0M1081.3 434.1V462.4M1085.7 434.1V468.8M1090.1 441.6V477.6M1094.5 440.8V453.6M1098.9 444.0V470.4M1103.3 456.5V481.6M1107.7 452.8V474.4M1112.1 453.3V468.8M1116.4 442.1V455.2M1120.8 443.2V454.4M1125.2 444.8V466.9M1129.6 447.7V464.0M1134.0 452.0V462.4M1138.4 453.6V485.6M1142.8 479.9V522.8M1147.1 492.4V584.4M1151.5 527.6V699.9M1155.9 502.8V551.6M1160.3 524.4V580.4M1164.7 557.2V614.8M1169.1 516.4V568.4M1173.5 522.0V548.4M1177.8 484.1V529.2M1182.2 502.8V540.4M1186.6 507.6V527.6M1191.0 497.2V522.8M1195.4 515.6V534.8M1199.8 518.8V538.0M1204.2 524.4V577.5M1208.5 551.6V585.2M1212.9 558.8V616.4M1217.3 557.2V582.8M1221.7 572.4V605.7M1226.1 560.4V591.6M1230.5 556.4V584.4M1234.9 569.2V591.6M1239.2 573.2V590.8M1243.6 571.6V597.2M1248.0 578.8V604.4M1252.4 597.9V636.8M1256.8 623.2V666.4M1261.2 647.2V699.7M1265.6 609.6V659.2M1270.0 598.9V628.8M1274.3 556.8V620.0M1278.7 558.0V585.2M1283.1 545.2V573.2M1287.5 546.8V574.8M1291.9 542.5V568.7M1296.3 536.4V567.6M1300.7 538.5V566.8M1305.0 541.2V574.8M1309.4 552.9V575.3M1313.8 553.2V572.4M1318.2 551.6V570.8M1322.6 529.2V562.8M1327.0 494.0V537.2M1331.4 500.4V520.4M1335.7 499.6V529.2M1340.1 511.6V526.0M1344.5 509.2V522.8M1348.9 504.4V540.4M1353.3 521.2V537.2" stroke="#8a8683" stroke-width="1.6" fill="none"/>
<path d="M9.8 577.3h2.8V580.0h-2.8zM14.2 561.1h2.8V575.5h-2.8zM22.9 563.2h2.8V571.5h-2.8zM27.3 557.1h2.8V562.7h-2.8zM31.7 541.3h2.8V556.8h-2.8zM44.9 568.3h2.8V575.7h-2.8zM53.6 571.6h2.8V572.9h-2.8zM58.0 560.5h2.8V571.5h-2.8zM62.4 554.4h2.8V560.5h-2.8zM71.2 544.3h2.8V557.6h-2.8zM79.9 546.1h2.8V547.5h-2.8zM84.3 543.2h2.8V545.6h-2.8zM88.7 538.1h2.8V543.2h-2.8zM93.1 528.5h2.8V537.9h-2.8zM97.5 520.3h2.8V529.3h-2.8zM101.9 515.5h2.8V520.3h-2.8zM110.6 510.7h2.8V524.5h-2.8zM115.0 507.1h2.8V508.4h-2.8zM119.4 493.1h2.8V508.5h-2.8zM123.8 491.5h2.8V493.6h-2.8zM128.2 491.4h2.8V492.6h-2.8zM141.3 496.3h2.8V503.5h-2.8zM154.5 498.4h2.8V504.3h-2.8zM158.9 497.5h2.8V498.8h-2.8zM163.3 497.9h2.8V499.2h-2.8zM180.8 515.3h2.8V516.5h-2.8zM189.6 503.2h2.8V518.7h-2.8zM198.4 506.4h2.8V508.0h-2.8zM202.8 495.5h2.8V505.6h-2.8zM207.1 483.5h2.8V495.2h-2.8zM211.5 474.4h2.8V483.7h-2.8zM215.9 465.1h2.8V473.6h-2.8zM220.3 449.2h2.8V463.1h-2.8zM229.1 447.6h2.8V452.4h-2.8zM237.8 448.8h2.8V450.1h-2.8zM242.2 424.4h2.8V450.0h-2.8zM246.6 423.0h2.8V424.2h-2.8zM255.4 428.4h2.8V432.7h-2.8zM259.8 424.1h2.8V428.4h-2.8zM272.9 437.6h2.8V438.9h-2.8zM281.7 431.1h2.8V442.5h-2.8zM286.1 397.5h2.8V431.6h-2.8zM290.5 360.1h2.8V397.2h-2.8zM294.9 356.4h2.8V359.6h-2.8zM299.2 354.3h2.8V356.4h-2.8zM312.4 364.4h2.8V378.8h-2.8zM325.6 374.3h2.8V385.7h-2.8zM334.3 364.7h2.8V413.7h-2.8zM338.7 362.6h2.8V363.8h-2.8zM343.1 339.3h2.8V362.8h-2.8zM351.9 330.8h2.8V343.3h-2.8zM365.0 356.4h2.8V372.4h-2.8zM378.2 366.3h2.8V379.1h-2.8zM382.6 347.6h2.8V366.0h-2.8zM391.4 346.5h2.8V350.5h-2.8zM395.7 342.5h2.8V345.5h-2.8zM404.5 351.0h2.8V352.2h-2.8zM413.3 351.3h2.8V363.3h-2.8zM430.8 376.4h2.8V379.1h-2.8zM435.2 375.5h2.8V376.8h-2.8zM439.6 373.7h2.8V375.6h-2.8zM461.5 409.9h2.8V461.1h-2.8zM470.3 401.3h2.8V422.4h-2.8zM474.7 399.2h2.8V401.6h-2.8zM483.5 406.4h2.8V409.3h-2.8zM492.2 422.1h2.8V427.5h-2.8zM509.8 439.0h2.8V440.2h-2.8zM514.2 432.3h2.8V440.0h-2.8zM518.6 425.9h2.8V432.8h-2.8zM531.7 425.1h2.8V448.8h-2.8zM536.1 415.2h2.8V424.8h-2.8zM540.5 414.2h2.8V415.4h-2.8zM549.2 417.1h2.8V420.3h-2.8zM558.0 412.8h2.8V418.9h-2.8zM562.4 401.1h2.8V412.5h-2.8zM566.8 374.7h2.8V400.8h-2.8zM580.0 392.5h2.8V396.3h-2.8zM593.1 402.9h2.8V407.2h-2.8zM601.9 402.9h2.8V407.2h-2.8zM615.0 406.8h2.8V408.1h-2.8zM632.6 413.9h2.8V421.1h-2.8zM641.4 406.1h2.8V418.9h-2.8zM650.1 405.3h2.8V409.9h-2.8zM654.5 397.9h2.8V405.1h-2.8zM663.3 400.2h2.8V401.4h-2.8zM680.8 405.2h2.8V406.5h-2.8zM685.2 397.2h2.8V405.5h-2.8zM694.0 392.1h2.8V400.7h-2.8zM698.4 384.1h2.8V391.9h-2.8zM707.1 379.1h2.8V387.9h-2.8zM715.9 378.0h2.8V384.7h-2.8zM724.7 378.1h2.8V379.4h-2.8zM733.5 385.5h2.8V386.8h-2.8zM751.0 404.4h2.8V406.0h-2.8zM759.8 406.5h2.8V417.2h-2.8zM768.6 415.6h2.8V420.7h-2.8zM772.9 410.3h2.8V415.6h-2.8zM777.3 396.7h2.8V409.7h-2.8zM786.1 396.4h2.8V402.3h-2.8zM790.5 393.2h2.8V396.4h-2.8zM794.9 383.6h2.8V393.2h-2.8zM803.6 388.4h2.8V392.4h-2.8zM808.0 379.3h2.8V388.4h-2.8zM816.8 383.3h2.8V385.7h-2.8zM821.2 361.2h2.8V382.8h-2.8zM830.0 345.7h2.8V361.7h-2.8zM847.5 364.3h2.8V365.6h-2.8zM856.3 361.7h2.8V366.5h-2.8zM865.0 370.3h2.8V374.5h-2.8zM882.6 379.5h2.8V380.8h-2.8zM887.0 370.0h2.8V379.6h-2.8zM891.4 367.6h2.8V370.5h-2.8zM895.7 361.2h2.8V367.9h-2.8zM930.8 391.2h2.8V403.2h-2.8zM944.0 388.3h2.8V394.4h-2.8zM948.4 385.6h2.8V389.1h-2.8zM952.8 384.0h2.8V386.4h-2.8zM979.1 432.0h2.8V451.7h-2.8zM983.5 421.6h2.8V431.5h-2.8zM1001.0 428.0h2.8V444.8h-2.8zM1009.8 422.9h2.8V431.2h-2.8zM1014.2 417.3h2.8V421.6h-2.8zM1018.6 413.9h2.8V417.6h-2.8zM1027.3 420.5h2.8V423.2h-2.8zM1040.5 434.4h2.8V436.3h-2.8zM1044.9 426.1h2.8V434.4h-2.8zM1058.0 431.2h2.8V441.6h-2.8zM1062.4 421.6h2.8V431.5h-2.8zM1066.8 421.1h2.8V422.3h-2.8zM1079.9 434.9h2.8V446.9h-2.8zM1088.7 442.7h2.8V466.7h-2.8zM1101.9 459.2h2.8V469.6h-2.8zM1110.7 455.2h2.8V464.8h-2.8zM1115.0 449.1h2.8V454.4h-2.8zM1119.4 446.4h2.8V448.8h-2.8zM1128.2 456.5h2.8V459.2h-2.8zM1150.1 537.9h2.8V539.1h-2.8zM1154.5 534.5h2.8V538.0h-2.8zM1163.3 566.0h2.8V571.6h-2.8zM1167.7 529.7h2.8V565.7h-2.8zM1172.1 524.9h2.8V529.7h-2.8zM1176.4 504.1h2.8V525.5h-2.8zM1185.2 515.4h2.8V516.6h-2.8zM1198.4 529.0h2.8V530.2h-2.8zM1211.5 566.0h2.8V576.4h-2.8zM1224.7 568.4h2.8V590.8h-2.8zM1237.8 587.3h2.8V589.7h-2.8zM1242.2 579.6h2.8V588.4h-2.8zM1264.2 625.3h2.8V656.5h-2.8zM1268.5 609.3h2.8V624.8h-2.8zM1272.9 563.2h2.8V608.8h-2.8zM1281.7 560.4h2.8V567.1h-2.8zM1286.1 550.0h2.8V560.4h-2.8zM1299.2 543.9h2.8V557.2h-2.8zM1308.0 554.0h2.8V573.2h-2.8zM1316.8 554.3h2.8V569.7h-2.8zM1321.2 530.3h2.8V554.3h-2.8zM1325.6 507.9h2.8V530.5h-2.8zM1330.0 506.0h2.8V508.4h-2.8zM1338.7 518.8h2.8V520.0h-2.8zM1343.1 510.5h2.8V518.8h-2.8zM1351.9 522.3h2.8V532.4h-2.8z" fill="#55976f" stroke="#2b5a42" stroke-width="0.7"/>
<path d="M18.5 561.1h2.8V571.5h-2.8zM36.1 542.7h2.8V549.1h-2.8zM40.5 549.3h2.8V575.7h-2.8zM49.2 569.6h2.8V574.1h-2.8zM66.8 554.7h2.8V558.4h-2.8zM75.6 544.5h2.8V548.5h-2.8zM106.3 515.5h2.8V526.4h-2.8zM132.6 491.5h2.8V493.6h-2.8zM137.0 494.4h2.8V503.5h-2.8zM145.7 496.0h2.8V501.6h-2.8zM150.1 500.8h2.8V504.3h-2.8zM167.7 498.9h2.8V506.4h-2.8zM172.0 506.4h2.8V511.7h-2.8zM176.4 511.2h2.8V517.3h-2.8zM185.2 515.5h2.8V518.9h-2.8zM194.0 503.2h2.8V508.0h-2.8zM224.7 450.3h2.8V452.4h-2.8zM233.5 446.5h2.8V448.1h-2.8zM251.0 423.1h2.8V432.4h-2.8zM264.2 424.1h2.8V436.4h-2.8zM268.5 436.4h2.8V438.3h-2.8zM277.3 438.8h2.8V442.5h-2.8zM303.6 354.3h2.8V371.3h-2.8zM308.0 371.3h2.8V378.8h-2.8zM316.8 364.4h2.8V369.5h-2.8zM321.2 369.5h2.8V385.2h-2.8zM330.0 374.3h2.8V414.0h-2.8zM347.5 339.3h2.8V343.3h-2.8zM356.3 330.8h2.8V343.3h-2.8zM360.7 343.3h2.8V372.4h-2.8zM369.4 355.9h2.8V366.8h-2.8zM373.8 367.6h2.8V379.3h-2.8zM387.0 347.3h2.8V352.1h-2.8zM400.1 342.5h2.8V351.6h-2.8zM408.9 352.1h2.8V363.3h-2.8zM417.7 350.3h2.8V354.8h-2.8zM422.1 354.8h2.8V370.5h-2.8zM426.4 370.5h2.8V379.1h-2.8zM444.0 373.5h2.8V387.1h-2.8zM448.4 387.2h2.8V416.8h-2.8zM452.8 416.5h2.8V419.5h-2.8zM457.1 419.2h2.8V461.1h-2.8zM465.9 409.9h2.8V422.4h-2.8zM479.1 400.3h2.8V408.8h-2.8zM487.8 407.2h2.8V426.9h-2.8zM496.6 421.6h2.8V428.0h-2.8zM501.0 428.0h2.8V433.6h-2.8zM505.4 432.3h2.8V440.0h-2.8zM522.9 425.9h2.8V441.6h-2.8zM527.3 440.5h2.8V448.8h-2.8zM544.9 415.7h2.8V420.5h-2.8zM553.6 417.3h2.8V419.2h-2.8zM571.2 374.7h2.8V386.4h-2.8zM575.6 386.4h2.8V396.0h-2.8zM584.3 392.5h2.8V397.6h-2.8zM588.7 397.6h2.8V406.7h-2.8zM597.5 402.4h2.8V407.7h-2.8zM606.3 402.9h2.8V404.8h-2.8zM610.6 405.3h2.8V407.5h-2.8zM619.4 407.7h2.8V409.3h-2.8zM623.8 410.1h2.8V416.8h-2.8zM628.2 417.1h2.8V421.1h-2.8zM637.0 414.1h2.8V419.5h-2.8zM645.7 406.4h2.8V409.3h-2.8zM658.9 398.4h2.8V400.5h-2.8zM667.7 400.8h2.8V403.5h-2.8zM672.1 403.5h2.8V405.1h-2.8zM676.4 405.1h2.8V406.3h-2.8zM689.6 397.5h2.8V400.4h-2.8zM702.8 384.1h2.8V387.6h-2.8zM711.5 379.3h2.8V384.4h-2.8zM720.3 377.2h2.8V378.8h-2.8zM729.1 378.3h2.8V387.6h-2.8zM737.9 385.2h2.8V388.7h-2.8zM742.2 389.5h2.8V406.5h-2.8zM746.6 405.6h2.8V406.9h-2.8zM755.4 404.1h2.8V416.7h-2.8zM764.2 406.3h2.8V419.6h-2.8zM781.7 396.4h2.8V402.5h-2.8zM799.2 383.6h2.8V392.7h-2.8zM812.4 379.3h2.8V386.0h-2.8zM825.6 361.3h2.8V362.6h-2.8zM834.3 345.5h2.8V353.5h-2.8zM838.7 353.2h2.8V359.9h-2.8zM843.1 360.1h2.8V365.5h-2.8zM851.9 364.9h2.8V366.8h-2.8zM860.6 362.3h2.8V375.1h-2.8zM869.4 370.5h2.8V372.7h-2.8zM873.8 373.5h2.8V379.6h-2.8zM878.2 379.6h2.8V380.9h-2.8zM900.1 360.2h2.8V361.4h-2.8zM904.5 361.2h2.8V366.8h-2.8zM908.9 367.1h2.8V372.7h-2.8zM913.3 372.8h2.8V374.1h-2.8zM917.7 374.8h2.8V397.7h-2.8zM922.1 397.2h2.8V398.8h-2.8zM926.4 398.4h2.8V402.7h-2.8zM935.2 391.7h2.8V392.9h-2.8zM939.6 392.5h2.8V393.9h-2.8zM957.1 384.3h2.8V390.7h-2.8zM961.5 392.5h2.8V394.7h-2.8zM965.9 395.2h2.8V406.9h-2.8zM970.3 406.0h2.8V407.2h-2.8zM974.7 406.9h2.8V451.7h-2.8zM987.9 422.1h2.8V434.1h-2.8zM992.2 433.6h2.8V436.8h-2.8zM996.6 436.3h2.8V444.8h-2.8zM1005.4 427.7h2.8V430.4h-2.8zM1022.9 413.6h2.8V423.5h-2.8zM1031.7 420.5h2.8V425.6h-2.8zM1036.1 425.1h2.8V437.3h-2.8zM1049.2 426.4h2.8V437.9h-2.8zM1053.6 437.9h2.8V442.7h-2.8zM1071.2 421.6h2.8V429.9h-2.8zM1075.6 431.2h2.8V447.2h-2.8zM1084.3 436.0h2.8V468.0h-2.8zM1093.1 442.1h2.8V444.5h-2.8zM1097.5 445.1h2.8V468.8h-2.8zM1106.3 458.7h2.8V466.4h-2.8zM1123.8 446.1h2.8V459.5h-2.8zM1132.6 456.0h2.8V458.4h-2.8zM1137.0 458.4h2.8V483.7h-2.8zM1141.4 483.1h2.8V495.6h-2.8zM1145.7 495.9h2.8V538.8h-2.8zM1158.9 534.5h2.8V572.4h-2.8zM1180.8 504.1h2.8V516.4h-2.8zM1189.6 515.3h2.8V517.5h-2.8zM1194.0 516.9h2.8V530.8h-2.8zM1202.8 529.2h2.8V570.0h-2.8zM1207.1 570.3h2.8V576.9h-2.8zM1215.9 564.9h2.8V575.6h-2.8zM1220.3 575.9h2.8V590.3h-2.8zM1229.1 569.2h2.8V575.1h-2.8zM1233.5 575.1h2.8V589.5h-2.8zM1246.6 579.6h2.8V599.6h-2.8zM1251.0 598.4h2.8V625.3h-2.8zM1255.4 626.1h2.8V653.6h-2.8zM1259.8 652.5h2.8V656.5h-2.8zM1277.3 563.3h2.8V567.3h-2.8zM1290.5 550.0h2.8V555.6h-2.8zM1294.9 555.9h2.8V557.5h-2.8zM1303.6 543.9h2.8V573.7h-2.8zM1312.4 554.0h2.8V569.2h-2.8zM1334.3 506.5h2.8V520.1h-2.8zM1347.5 510.8h2.8V532.9h-2.8z" fill="#c04435" stroke="#6e241c" stroke-width="0.7"/>
<path d="M8 522.2H1436" stroke="#62a07d" stroke-width="1" stroke-dasharray="1.2 2.8" fill="none"/>
<path d="M8.3 96.8L11.5 93.9L16.0 79.5L20.8 100.8L24.3 93.3L28.8 88.0L33.9 77.1L37.6 91.2L41.9 127.2L46.7 120.8L51.5 126.9L55.2 124.8L60.0 115.2L64.8 109.6L68.5 114.9L72.8 103.5L77.9 108.8L81.9 106.4L86.4 104.0L90.9 99.5L95.2 92.8L99.5 85.6L104.3 82.9L108.8 101.6L112.0 90.4L116.5 88.0L121.6 79.5L125.6 77.6L129.6 77.6L134.7 82.4L138.4 101.6L142.9 95.2L148.0 104.0L152.5 108.3L156.5 102.9L160.8 102.6L165.3 102.2L169.1 117.6L173.6 126.4L178.7 135.2L182.1 131.5L187.2 136.3L191.5 116.3L196.5 124.3L200.2 121.6L205.6 107.2L212.8 91.2L217.6 84.0L222.4 74.4L226.1 80.3L230.4 77.1L235.2 79.2L240.0 80.0L244.0 65.6L248.8 64.8L253.3 84.0L257.6 80.8L261.9 78.7L266.4 100.3L270.4 103.5L274.9 103.5L279.5 110.9L282.9 100.0L288.0 76.0L292.5 62.4L296.8 61.3L300.8 60.0L305.6 86.4L310.4 96.0L313.9 89.1L318.4 95.2L323.2 112.8L327.2 106.4L331.7 136.8L336.5 110.9L340.8 109.9L344.8 99.2L349.6 102.4L354.4 97.3L358.1 108.0L362.4 127.2L367.2 120.0L371.5 127.2L375.7 133.3L380.5 124.8L384.0 116.8L388.8 120.3L393.6 117.3L398.4 114.7L402.1 121.9L406.7 121.9L411.2 130.4L414.9 122.9L419.5 126.4L424.0 136.0L428.0 142.9L432.8 140.0L437.6 139.7L442.1 138.1L446.4 150.4L450.7 163.2L455.2 164.5L458.7 179.2L463.5 148.0L468.0 152.8L472.3 141.6L476.8 140.8L481.6 145.3L484.8 143.5L489.6 153.1L494.4 150.4L498.9 152.8L503.2 155.5L507.5 158.2L512.0 157.6L516.5 152.0L520.5 147.5L524.8 155.7L528.8 160.0L533.3 141.9L538.4 134.9L542.9 134.7L546.9 138.9L551.5 135.5L556.0 137.3L560.5 130.4L564.8 121.6L569.1 103.7L572.8 116.0L577.3 124.5L582.1 121.6L586.4 128.0L590.7 134.4L595.2 130.7L599.7 135.5L603.7 130.7L608.0 132.5L612.8 135.2L617.1 136.3L621.3 137.9L625.6 143.5L629.8 149.3L634.4 140.5L638.9 145.9L643.5 131.2L647.5 134.1L652.0 130.1L656.8 121.6L660.8 125.3L665.3 124.5L669.9 129.6L674.4 132.0L678.9 133.6L683.2 133.1L686.7 120.3L691.5 125.6L696.3 113.6L700.8 104.5L704.5 111.2L709.3 101.3L713.9 111.2L717.6 104.5L722.4 106.4L727.2 105.6L730.7 122.9L735.2 120.8L740.0 126.4L744.8 150.9L748.8 150.7L753.3 147.5L757.8 162.1L761.6 146.4L766.4 158.4L770.9 152.5L774.9 144.8L779.2 129.3L784.0 136.3L788.0 128.5L792.8 124.8L797.1 114.9L801.9 126.4L805.9 120.8L810.1 112.8L814.9 122.4L818.4 118.9L822.9 98.4L828.0 100.0L831.5 88.0L836.5 100.0L841.6 109.6L846.1 116.3L849.9 116.0L854.1 119.5L858.7 113.6L862.4 131.2L867.2 125.6L871.7 129.3L876.0 136.8L880.5 138.9L884.8 137.6L888.3 125.6L893.1 122.1L898.1 113.6L902.7 114.4L906.9 124.8L911.2 133.3L915.5 134.9L919.5 161.3L924.3 162.4L928.8 165.3L932.5 149.3L937.1 150.4L941.9 151.5L946.4 143.2L950.7 139.2L954.9 137.6L959.2 145.9L963.7 152.0L968.0 164.0L972.8 163.7L976.5 191.5L980.8 169.1L985.6 157.6L989.6 164.8L993.9 166.4L998.7 170.7L1003.2 153.9L1007.2 155.5L1011.7 148.0L1016.0 142.9L1020.3 138.4L1024.8 146.7L1029.3 144.0L1033.6 150.1L1037.9 157.6L1042.7 154.4L1047.2 144.8L1051.5 153.9L1055.7 157.3L1060.0 145.9L1064.3 135.2L1068.8 134.7L1073.6 143.7L1077.3 157.3L1081.9 145.6L1086.4 165.3L1091.2 144.8L1095.5 146.4L1099.7 159.2L1104.5 152.0L1108.0 155.5L1112.8 147.5L1116.8 143.2L1121.1 140.0L1125.9 149.3L1130.4 146.7L1134.1 148.3L1138.9 162.4L1143.7 169.6L1148.3 182.4L1152.0 181.9L1156.8 179.2L1161.3 188.8L1165.3 184.0L1169.9 161.6L1174.4 158.9L1178.1 145.9L1183.2 151.2L1187.7 150.7L1192.0 152.0L1196.0 157.6L1200.5 156.5L1205.6 171.7L1209.1 174.4L1213.6 166.7L1217.9 169.9L1222.1 174.7L1226.4 160.3L1231.2 162.7L1235.5 167.5L1240.0 166.4L1244.5 161.1L1248.8 168.0L1253.1 176.0L1257.6 182.7L1262.4 183.5L1265.9 165.1L1270.7 156.3L1275.2 133.1L1279.2 134.9L1283.5 131.5L1288.3 126.1L1292.8 129.3L1296.8 130.4L1301.6 122.9L1306.1 140.5L1309.9 129.9L1314.4 137.9L1319.2 129.9L1323.2 116.8L1327.7 107.5L1332.3 106.9L1336.0 117.1L1340.5 116.3L1345.3 112.0L1350.1 127.7L1354.1 121.3" stroke="#8c1a9c" stroke-width="1.2" fill="none" stroke-linejoin="round"/>
<path d="M1130 503.7L1380 505.2" stroke="#0a0a0a" stroke-width="2.4" fill="none"/>
<path d="M1327 415.3H1495" stroke="#0a0a0a" stroke-width="2.4" stroke-dasharray="11.8 14.45" fill="none"/>
<path d="M1353.5 500.7L1375.3 421.6M1361.2 429.6L1375.3 421.6L1383.5 435.6" stroke="#0a0a0a" stroke-width="2.4" fill="none" stroke-linecap="butt" stroke-linejoin="miter"/>
<path d="M1142.1 586.8C1147 591.5 1154 596.5 1161.6 596.8C1170 597 1175 592 1174.7 585.1" stroke="#f0141e" stroke-width="2.2" fill="none" stroke-linecap="round"/>
<path d="M1244.9 674.3C1248 679 1252.5 682.2 1257.9 682.4C1265 682.6 1271.5 677 1275.8 669.7" stroke="#f0141e" stroke-width="2.2" fill="none" stroke-linecap="round"/>
<path d="M1301.7 582.4C1305 586.3 1310 589.2 1315 589.3C1322 589.4 1328.5 584.5 1332.9 578.9" stroke="#f0141e" stroke-width="2.2" fill="none" stroke-linecap="round"/>
<rect x="1495" y="51" width="97" height="798" fill="#f3dfcf"/>
<rect x="7" y="849" width="1585" height="33" fill="#f3dfcf"/>
<text x="1505.5" y="74.39999999999999" font-size="13.3" fill="#4e4e4e" font-weight="normal" text-anchor="start" textLength="32" lengthAdjust="spacingAndGlyphs" stroke="#4e4e4e" stroke-width="0.3">80.00</text>
<text x="1505.5" y="117.0" font-size="13.3" fill="#4e4e4e" font-weight="normal" text-anchor="start" textLength="32" lengthAdjust="spacingAndGlyphs" stroke="#4e4e4e" stroke-width="0.3">60.00</text>
<text x="1505.5" y="159.7" font-size="13.3" fill="#4e4e4e" font-weight="normal" text-anchor="start" textLength="32" lengthAdjust="spacingAndGlyphs" stroke="#4e4e4e" stroke-width="0.3">40.00</text>
<clipPath id="c1"><rect x="1495" y="51" width="100" height="149"/></clipPath>
<g clip-path="url(#c1)"><text x="1505.5" y="202.4" font-size="13.3" fill="#4e4e4e" font-weight="normal" text-anchor="start" textLength="32" lengthAdjust="spacingAndGlyphs" stroke="#4e4e4e" stroke-width="0.3">20.00</text></g>
<clipPath id="c2"><rect x="1495" y="200" width="100" height="649"/></clipPath>
<g clip-path="url(#c2)">
<text x="1505.5" y="223.4" font-size="13.3" fill="#4e4e4e" font-weight="normal" text-anchor="start" textLength="66" lengthAdjust="spacingAndGlyphs" stroke="#4e4e4e" stroke-width="0.3">0.40000000</text>
<text x="1505.5" y="266.5" font-size="13.3" fill="#4e4e4e" font-weight="normal" text-anchor="start" textLength="66" lengthAdjust="spacingAndGlyphs" stroke="#4e4e4e" stroke-width="0.3">0.34000000</text>
<text x="1505.5" y="318.0" font-size="13.3" fill="#4e4e4e" font-weight="normal" text-anchor="start" textLength="66" lengthAdjust="spacingAndGlyphs" stroke="#4e4e4e" stroke-width="0.3">0.28000000</text>
<text x="1505.5" y="358.90000000000003" font-size="13.3" fill="#4e4e4e" font-weight="normal" text-anchor="start" textLength="66" lengthAdjust="spacingAndGlyphs" stroke="#4e4e4e" stroke-width="0.3">0.24000000</text>
<text x="1505.5" y="407.3" font-size="13.3" fill="#4e4e4e" font-weight="normal" text-anchor="start" textLength="66" lengthAdjust="spacingAndGlyphs" stroke="#4e4e4e" stroke-width="0.3">0.20000000</text>
<text x="1505.5" y="450.40000000000003" font-size="13.3" fill="#4e4e4e" font-weight="normal" text-anchor="start" textLength="66" lengthAdjust="spacingAndGlyphs" stroke="#4e4e4e" stroke-width="0.3">0.17000000</text>
<text x="1505.5" y="501.90000000000003" font-size="13.3" fill="#4e4e4e" font-weight="normal" text-anchor="start" textLength="66" lengthAdjust="spacingAndGlyphs" stroke="#4e4e4e" stroke-width="0.3">0.14000000</text>
<text x="1505.5" y="578.1999999999999" font-size="13.3" fill="#4e4e4e" font-weight="normal" text-anchor="start" textLength="66" lengthAdjust="spacingAndGlyphs" stroke="#4e4e4e" stroke-width="0.3">0.10500000</text>
<text x="1505.5" y="619.0999999999999" font-size="13.3" fill="#4e4e4e" font-weight="normal" text-anchor="start" textLength="66" lengthAdjust="spacingAndGlyphs" stroke="#4e4e4e" stroke-width="0.3">0.09000000</text>
<text x="1505.5" y="667.4" font-size="13.3" fill="#4e4e4e" font-weight="normal" text-anchor="start" textLength="66" lengthAdjust="spacingAndGlyphs" stroke="#4e4e4e" stroke-width="0.3">0.07500000</text>
<text x="1505.5" y="705.4" font-size="13.3" fill="#4e4e4e" font-weight="normal" text-anchor="start" textLength="66" lengthAdjust="spacingAndGlyphs" stroke="#4e4e4e" stroke-width="0.3">0.06500000</text>
<text x="1505.5" y="740.1999999999999" font-size="13.3" fill="#4e4e4e" font-weight="normal" text-anchor="start" textLength="66" lengthAdjust="spacingAndGlyphs" stroke="#4e4e4e" stroke-width="0.3">0.05700000</text>
<text x="1505.5" y="780.4" font-size="13.3" fill="#4e4e4e" font-weight="normal" text-anchor="start" textLength="66" lengthAdjust="spacingAndGlyphs" stroke="#4e4e4e" stroke-width="0.3">0.04900000</text>
<text x="1505.5" y="815.0" font-size="13.3" fill="#4e4e4e" font-weight="normal" text-anchor="start" textLength="66" lengthAdjust="spacingAndGlyphs" stroke="#4e4e4e" stroke-width="0.3">0.04300000</text>
<text x="1505.5" y="851.3" font-size="13.3" fill="#4e4e4e" font-weight="normal" text-anchor="start" textLength="66" lengthAdjust="spacingAndGlyphs" stroke="#4e4e4e" stroke-width="0.3">0.03750000</text>
</g>
<path d="M1495 69.8h5M1495 112.4h5M1495 155.1h5M1495 197.8h5M1495 218.6h5M1495 261.7h5M1495 313.2h5M1495 354.1h5M1495 402.5h5M1495 445.6h5M1495 497.1h5M1495 573.4h5M1495 614.3h5M1495 662.6h5M1495 700.6h5M1495 735.4h5M1495 775.6h5M1495 810.2h5M1495 846.5h5" stroke="#5e5e5e" stroke-width="1.4" fill="none"/>
<rect x="1527.5" y="208.5" width="31.5" height="19.5" rx="3.5" fill="#f3dfcf" stroke="#e3d6ea" stroke-width="1"/>
<text x="1531.5" y="223.0" font-size="13" fill="#4e4e4e" font-weight="normal" text-anchor="start" textLength="23" lengthAdjust="spacingAndGlyphs" stroke="#4e4e4e" stroke-width="0.3">USD</text>
<path d="M1494.5 406H1575.5a3 3 0 0 1 3 3V421.8a3 3 0 0 1 -3 3H1494.5z" fill="#0c0c0c"/>
<path d="M1495 415.3h5" stroke="#ffffff" stroke-width="1"/>
<text x="1505.5" y="420" font-size="13.3" fill="#ffffff" font-weight="normal" text-anchor="start" textLength="66" lengthAdjust="spacingAndGlyphs" stroke="#ffffff" stroke-width="0.3">0.19059907</text>
<path d="M1439 513.5H1493V531.6H1439a3 3 0 0 1 -3 -3V516.5a3 3 0 0 1 3 -3z" fill="#6aa785"/>
<text x="1441.5" y="527.3" font-size="13.3" fill="#ffffff" font-weight="normal" text-anchor="start" textLength="45" lengthAdjust="spacingAndGlyphs" stroke="#ffffff" stroke-width="0.3">VETUSD</text>
<path d="M1494.5 513.5H1575.5a3 3 0 0 1 3 3V544a3 3 0 0 1 -3 3H1494.5z" fill="#6aa785"/>
<path d="M1495 522.2h5" stroke="#ffffff" stroke-width="1"/>
<text x="1505.5" y="527.3" font-size="13.3" fill="#ffffff" font-weight="normal" text-anchor="start" textLength="66" lengthAdjust="spacingAndGlyphs" stroke="#ffffff" stroke-width="0.3">0.12752585</text>
<text x="1505.5" y="542.8" font-size="13.3" fill="#dcebe2" font-weight="normal" text-anchor="start" textLength="50" lengthAdjust="spacingAndGlyphs" stroke="#dcebe2" stroke-width="0.3">01:02:25</text>
<text x="33.1" y="870.6" font-size="13" fill="#4e4e4e" font-weight="normal" text-anchor="middle" textLength="6.5" lengthAdjust="spacingAndGlyphs" stroke="#4e4e4e" stroke-width="0.3">7</text>
<text x="164.7" y="870.6" font-size="13" fill="#4e4e4e" font-weight="normal" text-anchor="middle" textLength="13" lengthAdjust="spacingAndGlyphs" stroke="#4e4e4e" stroke-width="0.3">12</text>
<text x="256.8" y="870.6" font-size="13" fill="#4e4e4e" font-weight="normal" text-anchor="middle" textLength="31.3" lengthAdjust="spacingAndGlyphs" stroke="#4e4e4e" stroke-width="0.3">12:00</text>
<text x="348.9" y="870.6" font-size="13" fill="#4e4e4e" font-weight="normal" text-anchor="middle" textLength="13" lengthAdjust="spacingAndGlyphs" stroke="#4e4e4e" stroke-width="0.3">19</text>
<text x="441.0" y="870.6" font-size="13" fill="#4e4e4e" font-weight="normal" text-anchor="middle" textLength="31.3" lengthAdjust="spacingAndGlyphs" stroke="#4e4e4e" stroke-width="0.3">12:00</text>
<text x="533.1" y="870.6" font-size="13" fill="#4e4e4e" font-weight="normal" text-anchor="middle" textLength="13" lengthAdjust="spacingAndGlyphs" stroke="#4e4e4e" stroke-width="0.3">26</text>
<text x="664.7" y="870.6" font-size="13" fill="#4e4e4e" font-weight="bold" text-anchor="middle" textLength="22.5" lengthAdjust="spacingAndGlyphs">May</text>
<text x="769.9" y="870.6" font-size="13" fill="#4e4e4e" font-weight="normal" text-anchor="middle" textLength="6.5" lengthAdjust="spacingAndGlyphs" stroke="#4e4e4e" stroke-width="0.3">5</text>
<text x="901.5" y="870.6" font-size="13" fill="#4e4e4e" font-weight="normal" text-anchor="middle" textLength="13" lengthAdjust="spacingAndGlyphs" stroke="#4e4e4e" stroke-width="0.3">10</text>
<text x="993.6" y="870.6" font-size="13" fill="#4e4e4e" font-weight="normal" text-anchor="middle" textLength="31.3" lengthAdjust="spacingAndGlyphs" stroke="#4e4e4e" stroke-width="0.3">12:00</text>
<text x="1085.7" y="870.6" font-size="13" fill="#4e4e4e" font-weight="normal" text-anchor="middle" textLength="13" lengthAdjust="spacingAndGlyphs" stroke="#4e4e4e" stroke-width="0.3">17</text>
<text x="1177.8" y="870.6" font-size="13" fill="#4e4e4e" font-weight="normal" text-anchor="middle" textLength="31.3" lengthAdjust="spacingAndGlyphs" stroke="#4e4e4e" stroke-width="0.3">12:00</text>
<text x="1270" y="870.6" font-size="13" fill="#4e4e4e" font-weight="normal" text-anchor="middle" textLength="13" lengthAdjust="spacingAndGlyphs" stroke="#4e4e4e" stroke-width="0.3">24</text>
<text x="1375.2" y="870.6" font-size="13" fill="#4e4e4e" font-weight="normal" text-anchor="middle" textLength="13" lengthAdjust="spacingAndGlyphs" stroke="#4e4e4e" stroke-width="0.3">28</text>
<text x="1480.5" y="870.6" font-size="13" fill="#4e4e4e" font-weight="bold" text-anchor="middle" textLength="22.5" lengthAdjust="spacingAndGlyphs">Jun</text>
<path d="M33.1 849v5M164.7 849v5M256.8 849v5M348.9 849v5M441.0 849v5M533.1 849v5M664.7 849v5M769.9 849v5M901.5 849v5M993.6 849v5M1085.7 849v5M1177.8 849v5M1270.0 849v5M1375.2 849v5M1480.5 849v5" stroke="#5e5e5e" stroke-width="1.4" fill="none"/>
<path d="M7 200.5H1592M7 849.5H1592M1495.5 51V882" stroke="#5e5e5e" stroke-width="1.5" fill="none"/>
<rect x="7.5" y="51.5" width="1585" height="831" fill="none" stroke="#5e5e5e" stroke-width="1.3"/>
<text x="18.2" y="76.8" font-size="14.6" fill="#5a5a5a" font-weight="normal" text-anchor="start" textLength="91.6" lengthAdjust="spacingAndGlyphs">RSI (14, close)</text>
<text x="18.2" y="224.4" font-size="14.6" fill="#4a4a4a" font-weight="bold" text-anchor="start" textLength="426" lengthAdjust="spacingAndGlyphs">VeChain / US Dollar (calculated by TradingView), 4h, BINANCE</text>
<text x="18.2" y="244.6" font-size="14.6" fill="#5a5a5a" font-weight="normal" text-anchor="start" textLength="21.5" lengthAdjust="spacingAndGlyphs">Vol</text>
<text x="18.2" y="264.7" font-size="14.6" fill="#5a5a5a" font-weight="normal" text-anchor="start" textLength="95" lengthAdjust="spacingAndGlyphs">MA (50, close)</text>
<text x="18.2" y="285.1" font-size="14.6" fill="#5a5a5a" font-weight="normal" text-anchor="start" textLength="119.5" lengthAdjust="spacingAndGlyphs">MA (200, close, 0)</text>
<text x="18.2" y="305.0" font-size="14.6" fill="#5a5a5a" font-weight="normal" text-anchor="start" textLength="119.5" lengthAdjust="spacingAndGlyphs">EMA (20, close, 0)</text>
<text x="7.5" y="18.5" font-size="14.6" fill="#1c1c1c" font-weight="bold" text-anchor="start" textLength="94" lengthAdjust="spacingAndGlyphs">bitcoinwallah</text>
<text x="105.5" y="18.5" font-size="14.6" fill="#1c1c1c" font-weight="normal" text-anchor="start" textLength="406" lengthAdjust="spacingAndGlyphs">published on TradingView.com, May 27, 2021 06:57:36 GMT</text>
<text x="7.5" y="39" font-size="14.6" fill="#1c1c1c" font-weight="bold" text-anchor="start" textLength="154" lengthAdjust="spacingAndGlyphs">BINANCE:VETUSD, 240</text>
<text x="169" y="39" font-size="14.6" fill="#1c1c1c" font-weight="normal" text-anchor="start" textLength="77.5" lengthAdjust="spacingAndGlyphs">0.12752501</text>
<path d="M251 30.5h11l-5.5 9.5z" fill="#e8523c"/>
<text x="268.5" y="39" font-size="14.6" fill="#1c1c1c" font-weight="normal" text-anchor="start" textLength="147.5" lengthAdjust="spacingAndGlyphs">−0.00568493 (−4.27%)</text>
<text x="422.5" y="39" font-size="14.6" fill="#1c1c1c" font-weight="bold" text-anchor="start" textLength="15" lengthAdjust="spacingAndGlyphs">O:</text>
<text x="439.5" y="39" font-size="14.6" fill="#e8523c" font-weight="normal" text-anchor="start" textLength="78" lengthAdjust="spacingAndGlyphs">0.12282375</text>
<text x="523.5" y="39" font-size="14.6" fill="#1c1c1c" font-weight="bold" text-anchor="start" textLength="15" lengthAdjust="spacingAndGlyphs">H:</text>
<text x="540.5" y="39" font-size="14.6" fill="#e8523c" font-weight="normal" text-anchor="start" textLength="77.5" lengthAdjust="spacingAndGlyphs">0.12789314</text>
<text x="624" y="39" font-size="14.6" fill="#1c1c1c" font-weight="bold" text-anchor="start" textLength="12" lengthAdjust="spacingAndGlyphs">L:</text>
<text x="637.5" y="39" font-size="14.6" fill="#e8523c" font-weight="normal" text-anchor="start" textLength="78" lengthAdjust="spacingAndGlyphs">0.12073827</text>
<text x="721.5" y="39" font-size="14.6" fill="#1c1c1c" font-weight="bold" text-anchor="start" textLength="12.5" lengthAdjust="spacingAndGlyphs">C:</text>
<text x="735.5" y="39" font-size="14.6" fill="#e8523c" font-weight="normal" text-anchor="start" textLength="78" lengthAdjust="spacingAndGlyphs">0.12752585</text>
<g fill="#2d8be3"><circle cx="12.6" cy="907.6" r="5.9"/><circle cx="20.5" cy="902.3" r="7.3"/><circle cx="31.3" cy="906.7" r="6.8"/><rect x="12.6" y="903" width="18.7" height="10.5"/></g>
<path d="M8.5 910.6L18.5 903L26.5 909L34.2 902.3" stroke="#ffffff" stroke-width="1.3" fill="none"/>
<circle cx="18.5" cy="903.2" r="2.3" fill="#fff"/><circle cx="26.5" cy="908.8" r="2.2" fill="#fff"/>
<text x="40.5" y="909" font-size="15.5" fill="#1a1a1a" font-weight="normal" text-anchor="start" textLength="83.5" lengthAdjust="spacingAndGlyphs">TradingView</text>
</svg>
</body></html>
